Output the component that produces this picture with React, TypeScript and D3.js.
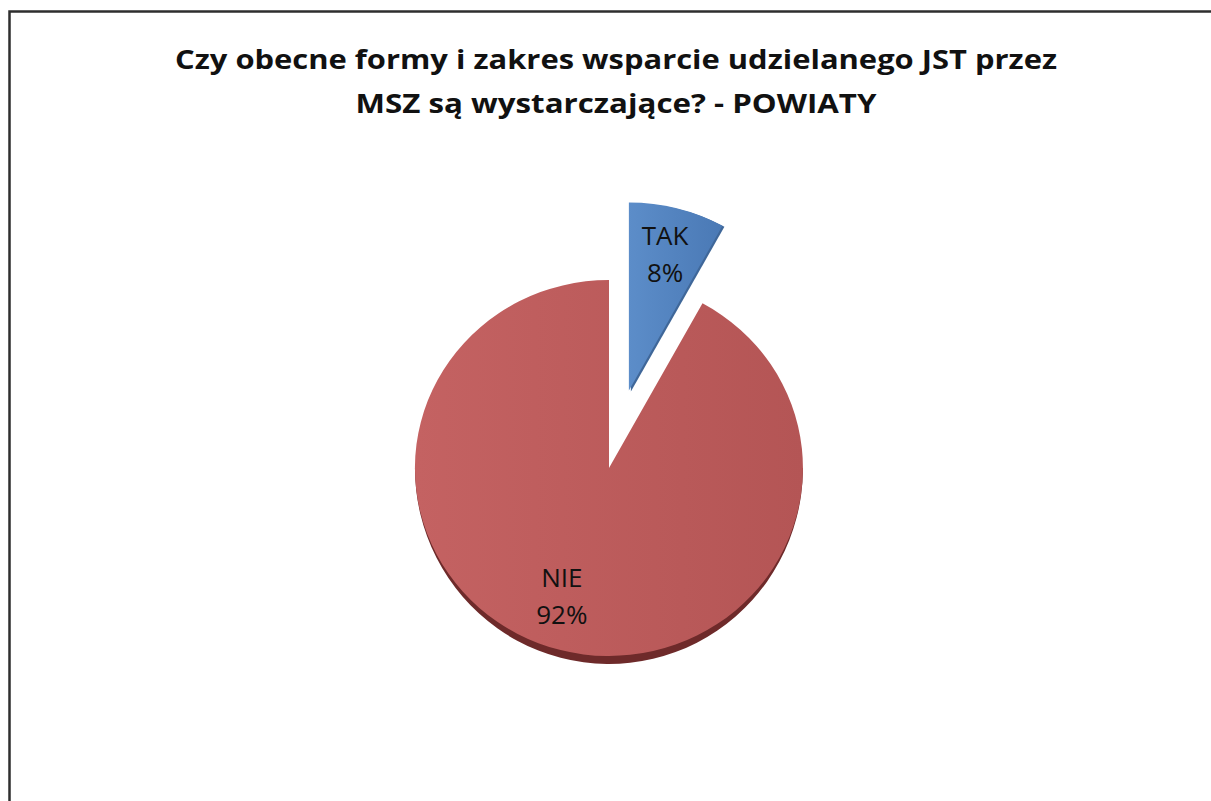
import React, { useEffect, useRef } from 'react';
import * as d3 from 'd3';

// answers and their shares (%)
const categories = ['TAK', 'NIE'];
const shares = [8, 92];
const sliceColors = [
    ['#5c8dc9', '#4a79b5'],
    ['#c46262', '#b45555'],
];
const explode = [80, 0];
const labelNudge = [[0, 0], [-11, -9]];

const titleLines = [
    'Czy obecne formy i zakres wsparcie udzielanego JST przez',
    'MSZ są wystarczające? - POWIATY',
];
const titleWidths = [882, 521];

const App: React.FC = () => {
    const ref = useRef<SVGSVGElement | null>(null);

    useEffect(() => {
        if (!ref.current) return;
        const svg = d3.select(ref.current);
        svg.selectAll('*').remove();

        const width = 1211;
        const height = 801;
        const cx = 609;
        const cy = 468;
        const rx = 194;
        const ry = 188;
        const depth = 8;

        svg.append('rect')
            .attr('width', width)
            .attr('height', height)
            .attr('fill', '#fff');

        // chart area border (runs off right and bottom edge)
        svg.append('rect')
            .attr('x', 9.5)
            .attr('y', 11.5)
            .attr('width', 1400)
            .attr('height', 1000)
            .attr('fill', 'none')
            .attr('stroke', '#2e2e2e')
            .attr('stroke-width', 2.5);

        titleLines.forEach((line, i) => {
            svg.append('text')
                .attr('x', 616)
                .attr('y', 69 + i * 44)
                .attr('text-anchor', 'middle')
                .attr('font-family', '"Open Sans", sans-serif')
                .attr('font-weight', 'bold')
                .attr('font-size', 27)
                .attr('textLength', titleWidths[i])
                .attr('lengthAdjust', 'spacingAndGlyphs')
                .attr('fill', '#111')
                .text(line);
        });

        const defs = svg.append('defs');
        sliceColors.forEach((c, i) => {
            const g = defs.append('linearGradient')
                .attr('id', `grad${i}`)
                .attr('x1', 0).attr('y1', 0)
                .attr('x2', 1).attr('y2', 0);
            g.append('stop').attr('offset', '0%').attr('stop-color', c[0]);
            g.append('stop').attr('offset', '100%').attr('stop-color', c[1]);
        });
        defs.append('clipPath')
            .attr('id', 'rimClip')
            .append('rect')
            .attr('x', 0)
            .attr('y', cy)
            .attr('width', width)
            .attr('height', height);

        const pie = d3.pie<number>().sort(null).startAngle(0).endAngle(2 * Math.PI);
        const arcs = pie(shares);
        const arc = d3.arc<d3.PieArcDatum<number>>().innerRadius(0).outerRadius(1);

        const offset = (a: d3.PieArcDatum<number>, i: number) => {
            const mid = (a.startAngle + a.endAngle) / 2;
            return [Math.sin(mid) * explode[i], -Math.cos(mid) * explode[i]];
        };

        // 3D rim under the slices
        const rim = svg.append('g').attr('clip-path', 'url(#rimClip)');
        arcs.forEach((a, i) => {
            const [ox, oy] = offset(a, i);
            if (i === 0) {
                svg.append('path')
                    .attr('d', arc(a) as string)
                    .attr('transform', `translate(${cx + ox + 2},${cy + oy + 1}) scale(${rx},${ry})`)
                    .attr('fill', '#3f6799');
            } else {
                rim.append('path')
                    .attr('d', arc(a) as string)
                    .attr('transform', `translate(${cx + ox},${cy + oy}) scale(${rx},${ry + depth})`)
                    .attr('fill', '#6e2a2a');
            }
        });

        arcs.forEach((a, i) => {
            const [ox, oy] = offset(a, i);
            svg.append('path')
                .attr('d', arc(a) as string)
                .attr('transform', `translate(${cx + ox},${cy + oy}) scale(${rx},${ry})`)
                .attr('fill', `url(#grad${i})`);
        });

        arcs.forEach((a, i) => {
            const [ox, oy] = offset(a, i);
            const mid = (a.startAngle + a.endAngle) / 2;
            const lx = cx + ox + Math.sin(mid) * rx * 0.75 + labelNudge[i][0];
            const ly = cy + oy - Math.cos(mid) * ry * 0.75 + labelNudge[i][1];
            const t = svg.append('text')
                .attr('text-anchor', 'middle')
                .attr('font-family', '"Open Sans", sans-serif')
                .attr('font-size', 26)
                .attr('fill', '#111');
            t.append('tspan').attr('x', lx).attr('y', ly - 9).text(categories[i]);
            t.append('tspan').attr('x', lx).attr('y', ly + 28).text(`${shares[i]}%`);
        });
    }, []);

    return (
        <svg
            ref={ref}
            width={1211}
            height={801}
            style={{ position: 'absolute', left: 0, top: 0, display: 'block' }}
        />
    );
};

export default App;
